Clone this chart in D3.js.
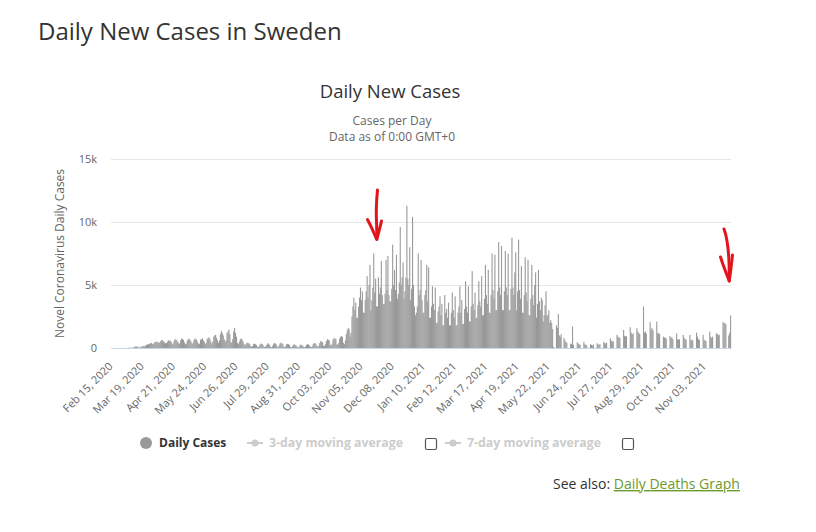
<!DOCTYPE html>
<html><head><meta charset="utf-8">
<script src="https://cdn.jsdelivr.net/npm/d3@7"></script>
<style>
body{margin:0;background:#fff;}
svg{font-family:"Open Sans",sans-serif;}
</style></head><body>
<svg id="c" width="816" height="532"></svg>
<script>
const pageTitle = "Daily New Cases in Sweden";
const chartTitle = "Daily New Cases";
const subtitleLines = ["Cases per Day", "Data as of 0:00 GMT+0"];
const yAxisTitle = "Novel Coronavirus Daily Cases";
const startDate = "2020-02-15";
const tickEvery = 33;
const yTicks = [0, 5000, 10000, 15000];
const yTickLabels = ["0", "5k", "10k", "15k"];
const legendItems = ["Daily Cases", "3-day moving average", "7-day moving average"];
// daily new cases, one line per week (Sat..Fri), starting Feb 15, 2020
const dailyCases = [
0,0,0,0,0,0,0,
0,0,0,0,1,5,6,
1,1,0,3,15,20,25,
10,20,50,60,120,130,100,
100,30,30,100,120,140,150,
120,200,250,300,280,330,380,
400,300,330,400,480,500,450,
500,450,400,550,640,620,500,
450,350,400,500,620,550,600,
480,300,350,550,700,680,600,
500,350,370,600,750,700,650,
450,300,350,600,700,750,640,
500,300,400,600,750,700,650,
450,300,350,650,700,780,600,
500,300,400,700,800,850,700,
500,300,500,900,1000,1050,800,
600,400,600,1100,1350,1200,1000,
700,500,600,1200,1300,1450,1100,
500,400,700,1300,1600,1200,900,
400,300,500,700,750,650,500,
300,200,300,420,400,380,300,
150,100,150,300,350,300,250,
100,80,150,300,350,320,250,
100,80,150,250,380,300,250,
80,60,150,300,400,350,280,
100,80,200,350,420,380,300,
100,60,150,300,330,300,250,
80,60,120,250,300,250,200,
80,60,100,200,280,230,200,
80,60,120,250,300,280,220,
100,80,150,300,400,380,300,
150,100,200,400,550,500,450,
200,150,300,550,700,650,600,
250,200,350,650,800,750,700,
300,250,400,750,900,950,850,
400,300,600,1100,1400,1600,1500,
900,1200,2500,3300,4000,3000,3600,
2400,2400,3300,4000,4800,3800,4500,
2800,2800,3800,4500,5700,4000,5000,
6600,3000,3800,4800,7500,4400,5500,
3300,3300,5600,4300,4800,6900,4200,
3500,3500,4300,7000,4600,7300,4200,
3700,3700,4700,8200,5000,6200,4600,
7400,3900,4300,5200,9600,5000,5600,
6800,3900,4500,5600,11300,5500,5000,
8000,3800,4700,10400,5000,3300,2600,
2800,3300,7500,4200,4600,7000,3800,
2800,2800,4200,4600,6600,3700,6400,
2400,2400,3300,4900,3500,3000,4800,
2000,2000,2900,3300,4100,2600,3500,
1800,1800,4200,2800,3100,2400,3600,
1800,1800,2800,4400,3000,2400,4100,
1800,1800,2800,3300,4900,2800,3800,
1900,1900,3100,5300,3300,2800,4900,
2100,2100,3300,6100,3500,3000,4400,
2400,2400,3400,5300,3700,3300,5700,
2600,2600,3900,6600,4200,3500,6200,
2800,2800,4200,7500,4600,3900,7400,
3000,3000,4500,8400,4800,4200,8100,
3000,3000,4500,7700,4800,4200,7500,
3000,3000,4700,8750,4800,4200,6000,
7600,3000,4500,8600,4600,3900,6500,
2800,2800,4200,7200,4400,3700,7000,
2600,2600,3900,6600,4200,3400,5000,
6000,2400,3500,6200,3700,3000,4000,
3800,2100,2600,3400,4500,2600,2600,
3000,2000,2200,2000,1500,100,0,
0,1800,1600,2700,1000,900,1100,
0,0,800,600,500,400,0,
0,0,350,300,1700,250,0,
0,0,450,350,300,250,0,
0,0,500,300,250,200,0,
0,0,300,250,200,280,0,
0,0,370,300,250,300,0,
0,0,500,400,350,420,0,
0,0,770,580,500,550,0,
0,0,1040,900,850,800,0,
0,0,1440,960,900,950,0,
0,0,1650,1220,1100,1150,0,
0,0,1570,1300,1200,1100,0,
0,0,3300,1220,1300,1150,0,
0,0,2050,1440,1600,1400,0,
0,0,2100,1170,1200,1100,0,
0,0,900,850,800,750,0,
0,0,960,800,850,700,0,
0,0,1170,700,650,700,0,
0,0,1040,800,700,650,0,
0,0,1040,640,650,600,0,
0,0,1220,900,700,650,0,
0,0,1040,650,600,550,0,
0,0,1300,900,800,900,0,
0,0,1170,1100,1000,1050,0,
0,0,2050,2000,1950,1900,0,
0,1000,1200,2580
];

const parse = d3.timeParse("%Y-%m-%d");
const fmt = d3.timeFormat("%b %d, %Y");
const t0 = parse(startDate);
const categories = dailyCases.map((v, i) => fmt(d3.timeDay.offset(t0, i)));

const svg = d3.select("#c");
const plot = {left: 111, right: 731, top: 159, bottom: 348};

svg.append("text").attr("x", 38).attr("y", 40)
  .attr("font-size", 24).attr("fill", "#333").text(pageTitle);

svg.append("text").attr("x", 390).attr("y", 98).attr("text-anchor", "middle")
  .attr("font-size", 18.5).attr("fill", "#333").text(chartTitle);
subtitleLines.forEach((s, i) => {
  svg.append("text").attr("text-anchor", "middle").attr("font-size", 12).attr("fill", "#666")
    .attr("x", 392).attr("y", 124.5 + i * 16.5).text(s);
});

const x = d3.scaleBand().domain(categories).range([plot.left, plot.right]).padding(0);
const y = d3.scaleLinear().domain([0, 15000]).range([plot.bottom, plot.top]);

// grid
const yAxis = d3.axisLeft(y).tickValues(yTicks).tickFormat((d, i) => yTickLabels[i])
  .tickSize(-(plot.right - plot.left)).tickPadding(14);
const gy = svg.append("g").attr("transform", `translate(${plot.left},0)`).call(yAxis);
gy.select(".domain").remove();
gy.selectAll(".tick line").attr("stroke", "#e6e6e6");
gy.selectAll(".tick text").attr("fill", "#666").attr("font-size", 11)
  .attr("font-family", "Open Sans, sans-serif");

svg.append("text")
  .attr("transform", `translate(64,${(plot.top + plot.bottom) / 2}) rotate(-90)`)
  .attr("text-anchor", "middle").attr("font-size", 12).attr("fill", "#666").text(yAxisTitle);

// bars
svg.append("g").selectAll("rect").data(dailyCases).join("rect")
  .attr("x", (d, i) => x(categories[i]))
  .attr("width", x.bandwidth() + 0.15)
  .attr("y", d => y(d))
  .attr("height", d => plot.bottom - y(d))
  .attr("fill", "#999");

// x axis
const xTickVals = categories.filter((c, i) => i % tickEvery === 0);
const xAxis = d3.axisBottom(x).tickValues(xTickVals).tickSize(0).tickPadding(0);
const gx = svg.append("g").attr("transform", `translate(0,${plot.bottom})`).call(xAxis);
gx.select(".domain").attr("stroke", "#ccd6eb");
gx.selectAll(".tick text")
  .attr("font-size", 11).attr("fill", "#666").attr("font-family", "Open Sans, sans-serif")
  .attr("text-anchor", "end").attr("dy", null).attr("y", null)
  .attr("transform", "translate(2,19) rotate(-45)");

// hand-drawn red annotation arrows
const arrows = svg.append("g").attr("fill", "none").attr("stroke", "#e3141c")
  .attr("stroke-width", 3).attr("stroke-linecap", "round").attr("stroke-linejoin", "round");
arrows.append("path").attr("d", "M377.5,190 C376.5,200 376,212 376.5,222 C376.8,230 377,235 376.8,239");
arrows.append("path").attr("d", "M367.5,219.5 C371,226 374,233 376.8,239.5 C378,234 380,228 381.5,221");
arrows.append("path").attr("d", "M724,229 C727,237 728.5,250 729,262 C729.3,270 729.3,276 729.2,281");
arrows.append("path").attr("d", "M720.5,257 C723,265 726.5,274 729.2,281 C730.5,273 731.5,264 732.5,255");

// legend
const ly = 443;
const lg = svg.append("g");
lg.append("circle").attr("cx", 146).attr("cy", ly).attr("r", 6).attr("fill", "#999");
lg.append("text").attr("x", 159).attr("y", ly + 4).attr("font-size", 12)
  .attr("font-weight", "bold").attr("fill", "#333").text(legendItems[0]);
[[247, 269, 425], [445, 467, 622]].forEach((p, i) => {
  lg.append("line").attr("x1", p[0]).attr("x2", p[0] + 16).attr("y1", ly).attr("y2", ly)
    .attr("stroke", "#ccc").attr("stroke-width", 2);
  lg.append("circle").attr("cx", p[0] + 8).attr("cy", ly).attr("r", 3.5).attr("fill", "#ccc");
  lg.append("text").attr("x", p[1]).attr("y", ly + 4).attr("font-size", 12.3)
    .attr("font-weight", "bold").attr("fill", "#ccc").text(legendItems[i + 1]);
  lg.append("rect").attr("x", p[2] + 0.5).attr("y", ly - 4.5).attr("width", 11).attr("height", 11)
    .attr("rx", 1.5).attr("fill", "#fff").attr("stroke", "#555").attr("stroke-width", 1.2);
});

// see also
const sa = svg.append("text").attr("x", 553).attr("y", 489).attr("font-size", 14).attr("fill", "#333");
sa.append("tspan").text("See also: ");
sa.append("tspan").attr("fill", "#6b9a2d").attr("text-decoration", "underline").text("Daily Deaths Graph");
</script>
</body></html>
